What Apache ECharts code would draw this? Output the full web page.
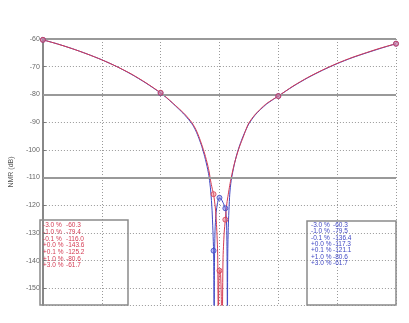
<!DOCTYPE html>
<html>
<head>
<meta charset="utf-8">
<script src="https://cdn.jsdelivr.net/npm/echarts@6/dist/echarts.min.js"></script>
<style>html,body{margin:0;padding:0;background:#fff;}#c{width:409px;height:323px;}</style>
</head>
<body>
<div id="c"></div>
<script>
// Frequency offset (%) and response (dB)
var redPct = [-3.0,-2.75,-2.5,-2.25,-2.0,-1.75,-1.5,-1.25,-1.0,-0.9,-0.8,-0.7,-0.6,-0.5,-0.45,-0.4,-0.35,-0.3,-0.25,-0.2,-0.175,-0.15,-0.125,-0.1,-0.07,-0.05,-0.03,-0.02,-0.01,0.0,0.01,0.02,0.03,0.045,0.06,0.08,0.1,0.125,0.15,0.175,0.2,0.25,0.3,0.35,0.4,0.45,0.5,0.6,0.7,0.8,0.9,1.0,1.25,1.5,1.75,2.0,2.25,2.5,2.75,3.0];
var redDb  = [-60.3,-61.8,-63.5,-65.4,-67.5,-69.9,-72.6,-75.8,-79.4,-81.1,-83.0,-84.9,-86.9,-89.3,-90.8,-92.7,-95.2,-98.2,-101.5,-105.5,-108,-111.2,-113.8,-116.0,-121,-127,-138,-165,-147,-143.6,-143.2,-145,-152,-170,-140,-130,-125.2,-119.5,-116,-112.8,-110,-105.3,-101.5,-98.3,-95.6,-92.7,-90.3,-87.4,-85.2,-83.3,-81.9,-80.6,-77.0,-73.9,-71.2,-68.8,-66.7,-64.9,-63.2,-61.7];
var bluePct = [-3.0,-2.75,-2.5,-2.25,-2.0,-1.75,-1.5,-1.25,-1.0,-0.9,-0.8,-0.7,-0.6,-0.5,-0.45,-0.4,-0.35,-0.3,-0.25,-0.2,-0.175,-0.15,-0.125,-0.1,-0.095,-0.09,-0.085,-0.075,-0.06,-0.04,-0.02,0.0,0.03,0.06,0.1,0.12,0.13,0.135,0.14,0.15,0.175,0.2,0.25,0.3,0.35,0.4,0.45,0.5,0.6,0.7,0.8,0.9,1.0,1.25,1.5,1.75,2.0,2.25,2.5,2.75,3.0];
var blueDb  = [-60.3,-61.8,-63.5,-65.4,-67.5,-69.9,-72.7,-75.9,-79.5,-81.2,-83.1,-85.1,-87.2,-89.7,-91.2,-93.2,-95.8,-98.8,-102.5,-107,-110,-114.5,-122,-136.4,-148,-170,-142,-129,-123.5,-120,-118,-117.3,-117.8,-119,-121.1,-126,-140,-170,-140,-128,-116,-111,-105.5,-101.3,-98,-95.2,-92.8,-90.6,-87.6,-85.4,-83.5,-82.0,-80.6,-77.1,-74.0,-71.3,-68.9,-66.8,-65.0,-63.3,-61.7];
var markPct = [-3.0,-1.0,-0.1,0.0,0.1,1.0,3.0];
var redMarkDb  = [-60.3,-79.4,-116.0,-143.6,-125.2,-80.6,-61.7];
var blueMarkDb = [-60.3,-79.5,-136.4,-117.3,-121.1,-80.6,-61.7];
var refLines = [-60,-80,-110];
var yName = 'NMR (dB)';

var RED = '#d43a52', BLUE = '#4048c4';
function zip(a,b){return a.map(function(v,i){return [v,b[i]];});}
function pctTxt(p){return (p<0?'-':'+')+Math.abs(p).toFixed(1)+' %';}

var chart = echarts.init(document.getElementById('c'), null, {renderer:'canvas'});

var graphics = [
  {type:'rect', shape:{x:40,y:220,width:88,height:85}, style:{fill:'none',stroke:'#8a8a8a',lineWidth:1.5}, z:50},
  {type:'rect', shape:{x:307,y:221,width:89,height:84}, style:{fill:'none',stroke:'#8a8a8a',lineWidth:1.5}, z:50}
];
markPct.forEach(function(p,i){
  graphics.push({type:'text', x:43, y:225.5+i*6.7, style:{text:pctTxt(p), fill:RED, font:'6.5px "Liberation Sans", Arial', verticalAlign:'middle'}, z:51});
  graphics.push({type:'text', x:66, y:225.5+i*6.7, style:{text:redMarkDb[i].toFixed(1), fill:RED, font:'6.5px "Liberation Sans", Arial', verticalAlign:'middle'}, z:51});
  graphics.push({type:'text', x:311, y:225+i*6.4, style:{text:pctTxt(p), fill:BLUE, font:'6.5px "Liberation Sans", Arial', verticalAlign:'middle'}, z:51});
  graphics.push({type:'text', x:333, y:225+i*6.4, style:{text:blueMarkDb[i].toFixed(1), fill:BLUE, font:'6.5px "Liberation Sans", Arial', verticalAlign:'middle'}, z:51});
});

chart.setOption({
  animation:false,
  backgroundColor:'#fff',
  grid:{left:40,right:13,top:39,bottom:18},
  xAxis:{type:'value',min:-3,max:3,interval:1,
    axisLine:{show:false,onZero:false},axisTick:{show:false},axisLabel:{show:false},
    splitLine:{show:true,lineStyle:{color:'#999',type:[1,2],width:1}}},
  yAxis:{type:'value',min:-156,max:-60,splitNumber:10,
    name:yName,nameLocation:'middle',nameGap:23,
    nameTextStyle:{fontSize:7,color:'#555',fontFamily:'Liberation Sans'},
    axisLine:{show:true,onZero:false,lineStyle:{color:'#888',width:2}},
    axisTick:{show:true,inside:true,length:3,lineStyle:{color:'#777'}},
    axisLabel:{fontSize:7,color:'#666',margin:3,showMinLabel:false,fontFamily:'Liberation Sans'},
    splitLine:{show:true,lineStyle:{color:'#999',type:[1,2],width:1}}},
  series:[
    {type:'line',data:zip(bluePct,blueDb),showSymbol:false,smooth:0.25,lineStyle:{color:BLUE,width:1},clip:true,z:3,
      markLine:{silent:true,symbol:'none',label:{show:false},lineStyle:{color:'#999',type:'solid',width:2},
        data:refLines.map(function(v){return {yAxis:v};})}},
    {type:'line',data:zip(redPct,redDb),showSymbol:false,smooth:0.25,lineStyle:{color:RED,width:1},clip:true,z:4},
    {type:'scatter',data:zip(markPct,blueMarkDb),symbol:'circle',symbolSize:5,
      itemStyle:{color:'rgba(110,120,230,0.6)',borderColor:BLUE,borderWidth:1},z:5},
    {type:'scatter',data:zip(markPct,redMarkDb),symbol:'circle',symbolSize:5,
      itemStyle:{color:'rgba(235,130,140,0.6)',borderColor:RED,borderWidth:1},z:6}
  ],
  graphic:graphics
});
</script>
</body>
</html>
